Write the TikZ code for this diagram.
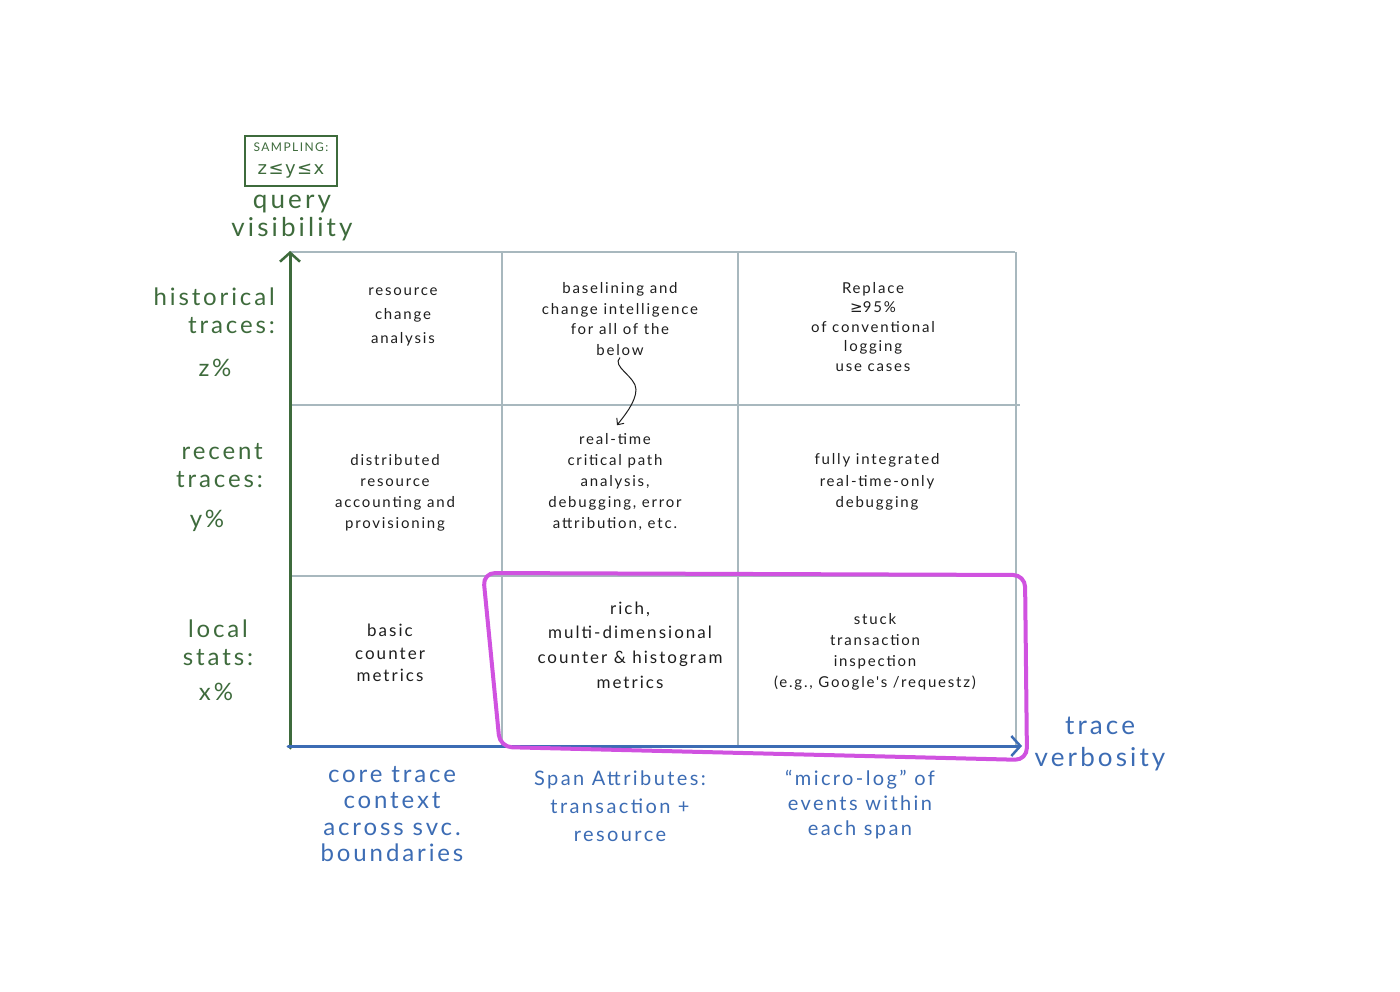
\documentclass[tikz,border=0pt]{standalone}
\usepackage{fontspec}
\setmainfont{Lato}
\newfontfamily\hand[LetterSpace=12]{Lato}
\newfontfamily\symfont[LetterSpace=8]{DejaVu Sans}
\usetikzlibrary{arrows.meta,calc}
\definecolor{axgreen}{HTML}{3E6B3C}
\definecolor{axblue}{HTML}{3C6CB4}
\definecolor{gridc}{HTML}{A8B8BE}
\definecolor{hilite}{HTML}{D052E0}
\definecolor{ink}{HTML}{1E1E1E}
\begin{document}
\begin{tikzpicture}[x=1pt,y=-1pt,
  cell/.style={align=center, text=ink, inner sep=2pt},
  ylab/.style={text=axgreen, align=center, inner sep=1pt, font=\hand\fontsize{24}{28}\selectfont},
  xlab/.style={text=axblue, align=center, inner sep=1pt, font=\hand\fontsize{21}{25}\selectfont},
  gridline/.style={draw=gridc, line width=1.3pt},
  axis/.style={line width=3pt, line cap=round},
  hl/.style={draw=hilite, line width=4pt, rounded corners=12pt, line join=round}]
\fill[white] (0,0) rectangle (1400,992);
\useasboundingbox (0,0) rectangle (1400,992);
% grid
\draw[gridline] (290,252) -- (1015,252);
\draw[gridline] (290,405) -- (1020,405);
\draw[gridline] (290,576) -- (1020,576);
\draw[gridline] (502,252) -- (502,748);
\draw[gridline] (738,252) -- (738,748);
\draw[gridline] (1016,252) -- (1016,746);
% axes
\coordinate (O) at (290,748);
\coordinate (ytip) at (290,251);
\coordinate (xstart) at (288,746);
\coordinate (xtip) at (1022,746);
\draw[axis, draw=axgreen, -{Straight Barb[length=9pt,width=20pt,line width=2.5pt]}] (O) -- (ytip);
\draw[axis, draw=axblue, -{Straight Barb[length=9pt,width=20pt,line width=2.5pt]}] (xstart) -- (xtip);
% cells
\node[cell, font=\hand\fontsize{15}{24}\selectfont] (rca) at (403,317) {resource\\change\\analysis};
\node[cell, font=\hand\fontsize{15}{20.5}\selectfont] (base) at (620,319) {baselining and\\change intelligence\\for all of the\\below};
\node[cell, font=\hand\fontsize{15}{19.5}\selectfont] (repl) at (873,327) {Replace\\{\symfont ≥}95\%\\of conventional\\logging\\use cases};
\node[cell, font=\hand\fontsize{15}{21}\selectfont] (dra) at (395,493) {distributed\\resource\\accounting and\\provisioning};
\node[cell, font=\hand\fontsize{15}{21}\selectfont] (rt) at (615,482) {real-time\\critical path\\analysis,\\debugging, error\\attribution, etc.};
\node[cell, font=\hand\fontsize{15}{21.5}\selectfont] (fid) at (877,482) {fully integrated\\real-time-only\\debugging};
\node[cell, font=\hand\fontsize{17}{22.5}\selectfont] (bcm) at (390,653) {basic\\counter\\metrics};
\node[cell, font=\hand\fontsize{17}{24.7}\selectfont] (rich) at (630,645) {rich,\\multi-dimensional\\counter \& histogram\\metrics};
\node[cell, font=\hand\fontsize{15}{21}\selectfont] (sti) at (875,652) {stuck\\transaction\\inspection\\(e.g., Google's /requestz)};
\coordinate (bend) at ($(base.south)+(16,32)$);
\draw[ink, line width=1pt, -{Straight Barb[length=5pt,width=9pt]}] (base.south) .. controls +(-9,9) and +(0,-13) .. (bend) .. controls +(0,13) and +(6,-8) .. ($(rt.north)+(2,-6)$);
% left labels
\node[draw=axgreen, line width=1.5pt, text=axgreen, align=center, minimum width=92pt, minimum height=50pt, inner sep=2pt, font=\hand\fontsize{12}{23}\selectfont] (samp) at (291,161) {SAMPLING:\\{\symfont\fontsize{18}{23}\selectfont z≤y≤x}};
\node[ylab, font=\hand\fontsize{26}{28}\selectfont] (qv) at (292,218) {query\\visibility};
\node[ylab, align=right, anchor=east] (hist) at (276,311) {historical\\traces:};
\node[ylab] (zpct) at (215,368) {z\%};
\node[ylab, align=right, anchor=east] (rec) at (264,466) {recent\\traces:};
\node[ylab] (ypct) at (207,521) {y\%};
\node[ylab] (loc) at (218,643) {local\\stats:};
\node[ylab] (xpct) at (216,692) {x\%};
% bottom labels
\node[xlab, font=\hand\fontsize{24}{26.5}\selectfont] (core) at (392,814) {core trace\\context\\across svc.\\boundaries};
\node[xlab, font=\hand\fontsize{20}{28}\selectfont] (span) at (620,806) {Span Attributes:\\transaction +\\resource};
\node[xlab, font=\hand\fontsize{20}{25}\selectfont] (micro) at (860,805) {“micro-log” of\\events within\\each span};
\node[xlab, font=\hand\fontsize{26}{32}\selectfont] (tv) at (1100,744) {trace\\verbosity};
% highlight
\draw[hl] (483,573) -- (1025,575) -- (1027,760) -- (500,747) -- cycle;
\end{tikzpicture}
\end{document}
